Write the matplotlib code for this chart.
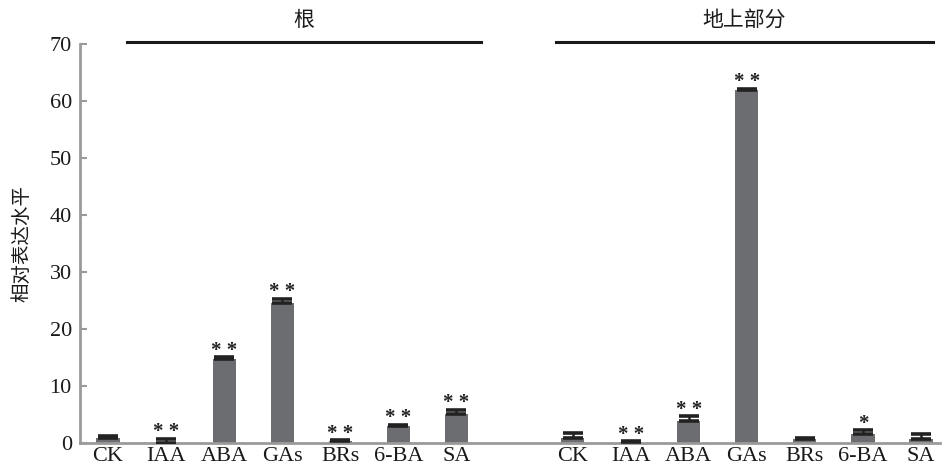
import numpy as np
import matplotlib
matplotlib.use("Agg")
from matplotlib import pyplot as plt

treatments = ["CK", "IAA", "ABA", "GAs", "BRs", "6-BA", "SA"]

# relative expression, root group
root_mean = [1.0, 0.1, 14.8, 24.6, 0.3, 3.0, 5.2]
root_err = [0.3, 0.7, 0.3, 0.7, 0.2, 0.2, 0.7]
root_sig = ["", "**", "**", "**", "**", "**", "**"]

# relative expression, above-ground group
shoot_mean = [1.0, 0.2, 3.9, 61.9, 0.8, 1.7, 0.75]
shoot_err = [0.8, 0.1, 0.8, 0.2, 0.1, 0.6, 0.8]
shoot_sig = ["", "**", "**", "**", "", "*", ""]

group_names = ["根", "地上部分"]

BAR_COLOR = "#6c6d71"
AXIS_COLOR = "#9a9a9a"
serif = "Liberation Serif"
cjk = ["Noto Sans CJK SC", "DejaVu Sans"]

x_root = np.arange(len(treatments))
x_shoot = x_root + len(treatments) + 1
xs = np.concatenate([x_root, x_shoot])
means = np.array(root_mean + shoot_mean)
errs = np.array(root_err + shoot_err)
sigs = root_sig + shoot_sig

fig = plt.figure(figsize=(9.43, 4.72), dpi=100)
ax = fig.add_axes([0.085, 0.061, 0.912, 0.846])

ax.bar(xs, means, width=0.4, color=BAR_COLOR, zorder=2)
ax.errorbar(xs, means, yerr=[np.zeros_like(errs), errs], fmt="none",
            ecolor="#222222", elinewidth=1.8, capsize=7.5, capthick=2.6, zorder=3)

# significance stars sit just above each cap
for x, m, e, s in zip(xs, means, errs, sigs):
    if s:
        ax.annotate(" ".join(s), (x, m + e), xytext=(0, -2.5),
                    textcoords="offset points", ha="center", va="bottom",
                    fontsize=15, family=serif, fontweight="bold", color="#222222")

ax.set_xlim(-0.48, 14.33)
ax.set_ylim(0, 70)
ax.set_yticks(range(0, 71, 10))
ax.set_xticks(xs)
ax.set_xticklabels(treatments * 2)

for side in ("top", "right"):
    ax.spines[side].set_visible(False)
for side in ("left", "bottom"):
    ax.spines[side].set_color(AXIS_COLOR)
    ax.spines[side].set_linewidth(2)

ax.tick_params(axis="y", direction="in", length=5, width=1.5, color=AXIS_COLOR,
               labelsize=16, pad=6)
ax.tick_params(axis="x", length=0, labelsize=16, pad=3)
for lab in ax.get_xticklabels() + ax.get_yticklabels():
    lab.set_family(serif)
    lab.set_color("#1a1a1a")

ax.set_ylabel("相对表达水平", family=cjk, fontsize=14, color="#1a1a1a", labelpad=12)

# group brackets above the bars
spans = [(0.33, 6.42), (7.71, 14.2)]
for (x0, x1), name in zip(spans, group_names):
    ax.plot([x0, x1], [70.3, 70.3], color="#1a1a1a", lw=2.2, clip_on=False)
    ax.text((x0 + x1) / 2, 72.3, name, ha="center", va="bottom",
            family=cjk, fontsize=15, color="#1a1a1a")

fig.savefig("out.png", dpi=100, facecolor="white")
